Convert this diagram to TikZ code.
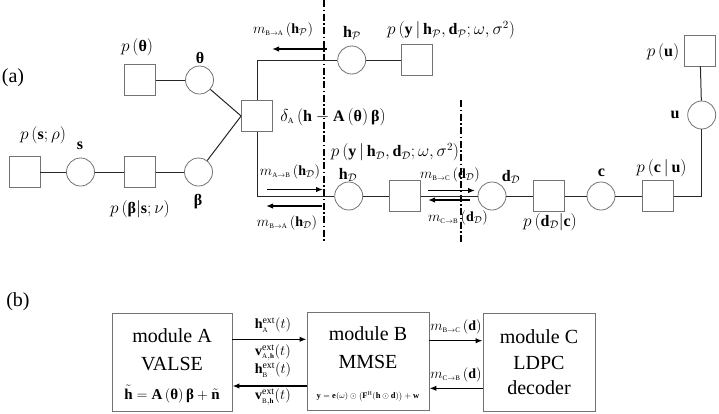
\documentclass[tikz,border=0pt]{standalone}
\usepackage{amsmath}
\usepackage{fontspec}
\setmainfont{Liberation Serif}
\usetikzlibrary{arrows.meta}
\newcommand{\mySub}[1]{{\scriptscriptstyle\mathrm{#1}}}
\newcommand{\B}[1]{\text{\normalfont\bfseries #1}}
\tikzset{
 fac/.style={draw=black!55, line width=0.8pt, minimum size=31pt, inner sep=0pt, fill=white},
 var/.style={circle, draw=black!55, line width=0.8pt, minimum size=28pt, inner sep=0pt, fill=white},
 lbl/.style={inner sep=0pt, font=\fontsize{16}{19}\selectfont},
 slbl/.style={inner sep=0pt, font=\fontsize{14}{17}\selectfont},
 edge/.style={line width=1pt, black!85},
 msg/.style={line width=1.4pt, -{Latex[length=7pt,width=5.5pt]}},
 cut/.style={line width=1.2pt, dash pattern=on 7pt off 2.5pt on 1.5pt off 2.5pt},
 mod/.style={draw=black!55, line width=0.9pt, inner sep=0pt, minimum height=98pt},
 modtxt/.style={font=\fontsize{20}{24}\selectfont, inner sep=0pt},
}
\begin{document}
\begin{tikzpicture}[x=1pt,y=-1pt]
\useasboundingbox (0,0) rectangle (719,413);

% ---------------- (a) ----------------
\node[modtxt] (la) at (13,78) {(a)};

% cut lines
\coordinate (cut1t) at (324,0);
\coordinate (cut1b) at (324,242);
\coordinate (cut2t) at (461,100);
\coordinate (cut2b) at (461,242);
\draw[cut] (cut1t) -- (cut1b);
\draw[cut] (cut2t) -- (cut2b);

% nodes
\node[fac] (ptheta) at (140,80) {};
\node[var] (theta) at (199.5,80) {};
\node[fac] (delta) at (257,116) {};
\node[fac] (psrho) at (24.5,172) {};
\node[var] (s) at (80.5,172) {};
\node[fac] (pbeta) at (140,172) {};
\node[var] (beta) at (198.5,172) {};
\node[var] (hP) at (351.7,60) {};
\node[fac] (pyP) at (417,60) {};
\node[var] (hD) at (348.7,196) {};
\node[fac] (pyD) at (404.7,196) {};
\node[var] (dD) at (492,196) {};
\node[fac] (pdc) at (548.7,196) {};
\node[var] (c) at (601,196) {};
\node[fac] (pcu) at (658,196) {};
\node[var] (u) at (701.7,115) {};
\node[fac] (pu) at (700,50.5) {};

% edges
\draw[edge] (ptheta) -- (theta);
\draw[edge] (theta) -- (delta.west);
\draw[edge] (beta) -- (delta.west);
\draw[edge] (psrho) -- (s) -- (pbeta) -- (beta);
\draw[edge] (delta.north) |- (hP.west);
\draw[edge] (delta.south) |- (hD.west);
\draw[edge] (hP) -- (pyP);
\draw[edge] (hD) -- (pyD) -- (dD) -- (pdc) -- (c) -- (pcu);
\draw[edge] (pcu.east) -| (u.south);
\draw[edge] (u) -- (pu);

% labels
\node[lbl] (tptheta) at (137,47) {$p\left(\B{θ}\right)$};
\node[lbl] (ttheta) at (200,58) {$\B{θ}$};
\node[lbl] (tpsrho) at (43,135) {$p\left(\B{s};\rho\right)$};
\node[lbl] (ts) at (80,146) {$\B{s}$};
\node[lbl] (tbeta) at (198,202) {$\B{β}$};
\node[lbl] (tpbeta) at (140,209) {$p\left(\B{β}\middle|\B{s};\nu\right)$};
\node[lbl] (tdelta) at (333,117) {$\delta_{\mySub{A}}\left(\B{h}-\B{A}\left(\B{θ}\right)\B{β}\right)$};
\node[lbl] (thP) at (352,33) {$\B{h}_{\mathcal{P}}$};
\node[lbl] (tpyP) at (451,30) {$p\left(\B{y}\,|\,\B{h}_{\mathcal{P}},\B{d}_{\mathcal{P}};\omega,\sigma^2\right)$};
\node[lbl] (tpyD) at (395,152) {$p\left(\B{y}\,|\,\B{h}_{\mathcal{D}},\B{d}_{\mathcal{D}};\omega,\sigma^2\right)$};
\node[lbl] (thD) at (348,175) {$\B{h}_{\mathcal{D}}$};
\node[lbl] (tdD) at (511,177) {$\B{d}_{\mathcal{D}}$};
\node[lbl] (tpdc) at (550,222) {$p\left(\B{d}_{\mathcal{D}}\middle|\B{c}\right)$};
\node[lbl] (tc) at (601.5,173) {$\B{c}$};
\node[lbl] (tpcu) at (661.5,168) {$p\left(\B{c}\,|\,\B{u}\right)$};
\node[lbl] (tu) at (675,115) {$\B{u}$};
\node[lbl] (tpu) at (663,52) {$p\left(\B{u}\right)$};

% messages
\node[slbl] (mBAP) at (283,30) {$m_{\mySub{B\to A}}\left(\B{h}_{\mathcal{P}}\right)$};
\coordinate (mBAPs) at (327,49);
\coordinate (mBAPe) at (272,49);
\draw[msg] (mBAPs) -- (mBAPe);

\node[slbl] (mABD) at (290,172) {$m_{\mySub{A\to B}}\left(\B{h}_{\mathcal{D}}\right)$};
\coordinate (mABDs) at (267,189.5);
\coordinate (mABDe) at (323,189.5);
\draw[msg] (mABDs) -- (mABDe);

\node[slbl] (mBAD) at (287,223) {$m_{\mySub{B\to A}}\left(\B{h}_{\mathcal{D}}\right)$};
\coordinate (mBADs) at (322,206);
\coordinate (mBADe) at (266,206);
\draw[msg] (mBADs) -- (mBADe);

\node[slbl] (mBCD) at (450,175) {$m_{\mySub{B\to C}}\left(\B{d}_{\mathcal{D}}\right)$};
\coordinate (mBCDs) at (428,190.5);
\coordinate (mBCDe) at (475,190.5);
\draw[msg] (mBCDs) -- (mBCDe);

\node[slbl] (mCBD) at (458,218) {$m_{\mySub{C\to B}}\left(\B{d}_{\mathcal{D}}\right)$};
\coordinate (mCBDs) at (470,200);
\coordinate (mCBDe) at (428,200);
\draw[msg] (mCBDs) -- (mCBDe);

% ---------------- (b) ----------------
\node[modtxt] (lb) at (18,302) {(b)};

\node[mod, minimum width=120pt] (A) at (172,362) {};
\node[mod, minimum width=122pt] (B) at (368,361.5) {};
\node[mod, minimum width=112pt] (C) at (539,362) {};

\node[modtxt] (A1) at (172,336) {module A};
\node[modtxt] (A2) at (172,364) {VALSE};
\node[inner sep=0pt, font=\fontsize{15}{18}\selectfont] (A3) at (172,394) {$\tilde{\B{h}}=\B{A}\left(\B{θ}\right)\B{β}+\tilde{\B{n}}$};

\node[modtxt] (B1) at (368,334) {module B};
\node[modtxt] (B2) at (368,362) {MMSE};
\node[inner sep=0pt, font=\fontsize{8.5}{10}\selectfont] (B3) at (368,396.5) {$\B{y}=\B{e}(\omega)\odot\left(\B{F}^{\mathrm{H}}(\B{h}\odot\B{d})\right)+\B{w}$};

\node[modtxt] (C1) at (539,337) {module C};
\node[modtxt] (C2) at (539,363) {LDPC};
\node[modtxt] (C3) at (539,388) {decoder};

\draw[msg] ([yshift=22.7pt]A.east) -- ([yshift=22.7pt]A.east -| B.west);
\draw[msg] ([yshift=-24pt]A.east -| B.west) -- ([yshift=-24pt]A.east);
\draw[msg] ([yshift=21.3pt]C.west -| B.east) -- ([yshift=21.3pt]C.west);
\draw[msg] ([yshift=-26.3pt]C.west) -- ([yshift=-26.3pt]C.west -| B.east);

\node[slbl] (hA) at (273,325) {$\B{h}^{\mathrm{ext}}_{\mySub{A}}(t)$};
\node[slbl, align=center, font=\fontsize{14}{18.5}\selectfont] (vAhB) at (273,361) {$\B{v}^{\mathrm{ext}}_{\mySub{A},\B{\scriptsize h}}(t)$\\$\B{h}^{\mathrm{ext}}_{\mySub{B}}(t)$};
\node[slbl] (vB) at (273,397) {$\B{v}^{\mathrm{ext}}_{\mySub{B},\B{\scriptsize h}}(t)$};
\node[slbl] (mBC) at (456,327) {$m_{\mySub{B\to C}}\left(\B{d}\right)$};
\node[slbl] (mCB) at (456,375) {$m_{\mySub{C\to B}}\left(\B{d}\right)$};
\end{tikzpicture}
\end{document}
